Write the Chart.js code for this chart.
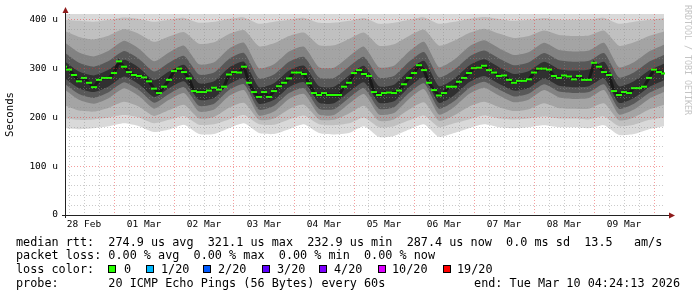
<!DOCTYPE html>
<html>
<head>
<meta charset="utf-8">
<script src="https://cdn.jsdelivr.net/npm/chart.js@4/dist/chart.umd.min.js"></script>
<style>
  body { margin: 0; background: #fff; }
</style>
</head>
<body>
<canvas id="Smoke_Chart" width="697" height="297"></canvas>
<script>
// hours are counted from 28 Feb 00:00
const dayLabels = ['28 Feb', '01 Mar', '02 Mar', '03 Mar', '04 Mar', '05 Mar', '06 Mar', '07 Mar', '08 Mar', '09 Mar'];

// median rtt in microseconds, one value every 2 hours (hour 4 .. 244)
const medianRtt = [
  304, 298, 287, 274, 281, 271, 262, 277, 281, 281,
  291, 315, 304, 293, 287, 285, 282, 274, 259, 250,
  263, 277, 295, 300, 293, 280, 254, 252, 252, 255,
  261, 257, 263, 288, 293, 292, 304, 271, 252, 242,
  252, 242, 254, 264, 271, 280, 292, 292, 289, 270,
  250, 246, 250, 246, 246, 246, 263, 271, 291, 297,
  289, 285, 252, 246, 250, 251, 250, 255, 268, 281,
  291, 307, 297, 271, 256, 245, 250, 263, 263, 273,
  281, 291, 301, 302, 306, 297, 292, 285, 286, 277,
  271, 275, 275, 278, 292, 300, 300, 298, 285, 281,
  286, 284, 278, 285, 277, 277, 312, 304, 293, 287,
  254, 246, 252, 250, 260, 260, 263, 281, 298, 293,
  290
];

// smoke bands (sorted pings), one value every 6 hours (hour 4 .. 244)
const pingLowest = [178, 176, 178, 182, 188, 182, 170, 175, 185, 166, 166, 178, 188, 168, 166, 176, 186, 168, 165, 168, 182, 160, 162, 175, 186, 160, 168, 178, 186, 180, 178, 180, 184, 180, 180, 178, 184, 164, 166, 176, 182];
const pingLow = [198, 195, 196, 200, 205, 200, 188, 195, 203, 185, 186, 196, 205, 186, 185, 196, 204, 186, 184, 188, 200, 180, 182, 194, 204, 180, 188, 196, 204, 198, 196, 198, 202, 198, 198, 196, 202, 182, 185, 195, 200];
const pingLowSoft = [226, 214, 212, 220, 232, 222, 203, 215, 226, 198, 201, 220, 230, 195, 198, 217, 226, 196, 195, 208, 224, 193, 196, 216, 231, 193, 204, 222, 232, 221, 213, 217, 229, 219, 218, 218, 229, 194, 200, 216, 226];
const pingLowMid = [258, 236, 228, 240, 260, 244, 218, 236, 250, 212, 216, 244, 256, 204, 212, 238, 248, 206, 205, 228, 248, 206, 209, 238, 258, 206, 221, 248, 261, 245, 231, 237, 256, 241, 238, 240, 256, 206, 216, 238, 252];
const pingLowDark = [270, 248, 240, 252, 272, 256, 230, 248, 262, 224, 228, 256, 268, 216, 224, 250, 260, 218, 217, 240, 260, 218, 221, 250, 270, 218, 233, 260, 273, 257, 243, 249, 268, 253, 250, 252, 268, 218, 228, 250, 264];
const pingLowCore = [282, 260, 252, 264, 284, 268, 242, 260, 274, 236, 240, 268, 280, 228, 236, 262, 272, 230, 229, 252, 272, 230, 233, 262, 282, 230, 245, 272, 285, 269, 255, 261, 280, 265, 262, 264, 280, 230, 240, 262, 276];
const pingHighCore = [316, 294, 286, 298, 318, 302, 276, 294, 308, 270, 274, 302, 314, 262, 270, 296, 306, 264, 263, 286, 306, 264, 267, 296, 316, 264, 279, 306, 319, 303, 289, 295, 314, 299, 296, 298, 314, 264, 274, 296, 310];
const pingHighDark = [334, 312, 304, 316, 336, 320, 294, 312, 326, 288, 292, 320, 332, 280, 288, 314, 324, 282, 281, 304, 324, 282, 285, 314, 334, 282, 297, 324, 337, 321, 307, 313, 332, 317, 314, 316, 332, 282, 292, 314, 328];
const pingHighMid = [355, 333, 325, 337, 357, 341, 315, 333, 347, 309, 313, 341, 353, 301, 309, 335, 345, 303, 302, 325, 345, 303, 306, 335, 355, 303, 318, 345, 358, 342, 328, 334, 353, 338, 335, 337, 353, 303, 313, 335, 349];
const pingHighSoft = [378, 365, 360, 368, 381, 371, 355, 366, 375, 351, 354, 371, 379, 346, 352, 367, 374, 348, 348, 361, 374, 347, 350, 367, 380, 347, 357, 373, 382, 372, 363, 367, 378, 369, 367, 368, 378, 347, 354, 367, 376];
const pingHigh = [400, 398, 396, 400, 405, 402, 396, 400, 404, 394, 396, 402, 405, 392, 396, 400, 404, 394, 394, 398, 404, 392, 394, 400, 405, 392, 396, 402, 406, 402, 398, 400, 404, 400, 400, 400, 404, 392, 396, 400, 404];

const lossLabels = ['0', '1/20', '2/20', '3/20', '4/20', '10/20', '19/20'];
const lossColors = ['#26ff00', '#00b8ff', '#0059ff', '#5e00ff', '#7e00ff', '#dd00ff', '#ff0000'];

const medianHours = [];
for (let h = 4; h <= 244; h += 2) medianHours.push(h);
const bandHours = [];
for (let h = 4; h <= 244; h += 6) bandHours.push(h);

function toPoints(hours, values) {
  return values.map((v, i) => ({ x: hours[i], y: v }));
}

function band(values, color, fill) {
  return {
    data: toPoints(bandHours, values),
    borderWidth: 0,
    borderColor: 'transparent',
    backgroundColor: color,
    pointRadius: 0,
    tension: 0.2,
    fill: fill
  };
}

const mono = 'DejaVu Sans Mono';
const majorGrid = 'rgba(230, 40, 40, 0.45)';
const minorGrid = 'rgba(140, 140, 140, 0.45)';

// axes, arrows, legend text and watermark like rrdtool draws them
const smokeDecor = {
  id: 'smokeDecor',
  afterDraw(chart) {
    const ctx = chart.ctx;
    const a = chart.chartArea;
    ctx.save();
    ctx.strokeStyle = '#222';
    ctx.lineWidth = 1;
    ctx.beginPath();
    ctx.moveTo(a.left + 0.5, a.bottom + 3);
    ctx.lineTo(a.left + 0.5, 10);
    ctx.moveTo(a.left - 3, a.bottom + 0.5);
    ctx.lineTo(a.right + 5, a.bottom + 0.5);
    ctx.stroke();

    ctx.fillStyle = '#8e1b1b';
    ctx.beginPath();
    ctx.moveTo(a.left + 0.5, 7);
    ctx.lineTo(a.left - 2.5, 13);
    ctx.lineTo(a.left + 3.5, 13);
    ctx.closePath();
    ctx.fill();
    ctx.beginPath();
    ctx.moveTo(a.right + 10, a.bottom + 0.5);
    ctx.lineTo(a.right + 4, a.bottom - 2.5);
    ctx.lineTo(a.right + 4, a.bottom + 3.5);
    ctx.closePath();
    ctx.fill();

    // watermark
    ctx.save();
    ctx.translate(687, 5);
    ctx.rotate(Math.PI / 2);
    ctx.font = '8.3px "' + mono + '"';
    ctx.fillStyle = '#c4c4c4';
    ctx.textBaseline = 'middle';
    ctx.textAlign = 'left';
    ctx.fillText('RRDTOOL / TOBI OETIKER', 0, 0);
    ctx.restore();

    // legend
    ctx.font = '11.8px "' + mono + '"';
    ctx.fillStyle = '#000';
    ctx.textBaseline = 'alphabetic';
    ctx.textAlign = 'left';
    ctx.fillText('median rtt:  274.9 us avg  321.1 us max  232.9 us min  287.4 us now  0.0 ms sd  13.5   am/s', 16, 245.5);
    ctx.fillText('packet loss: 0.00 % avg  0.00 % max  0.00 % min  0.00 % now', 16, 259.3);
    ctx.fillText('loss color:', 16, 273);
    ctx.fillText('probe:       20 ICMP Echo Pings (56 Bytes) every 60s', 16, 286.7);
    ctx.textAlign = 'right';
    ctx.fillText('end: Tue Mar 10 04:24:13 2026', 680, 286.7);

    let boxX = [108, 146, 203, 262, 319, 378, 443];
    let textX = [124, 161, 218, 277, 334, 392, 457];
    ctx.textAlign = 'left';
    for (let i = 0; i < lossLabels.length; i++) {
      ctx.fillStyle = lossColors[i];
      ctx.fillRect(boxX[i], 265, 8, 8);
      ctx.strokeStyle = '#000';
      ctx.strokeRect(boxX[i] + 0.5, 265.5, 7, 7);
      ctx.fillStyle = '#000';
      ctx.fillText(lossLabels[i], textX[i], 273);
    }
    ctx.restore();
  }
};

const config = {
  type: 'line',
  data: {
    datasets: [
      // median: short green dashes on a dark trace
      { data: toPoints(medianHours, medianRtt), showLine: false, pointStyle: 'line', pointRadius: 3, pointBorderWidth: 2, pointBorderColor: '#26ff00', pointBackgroundColor: '#26ff00', fill: false },
      { data: toPoints(medianHours, medianRtt), borderColor: 'rgba(20, 20, 20, 0.8)', borderWidth: 3, pointRadius: 0, tension: 0, fill: false },
      band(pingLowCore, '#303030', '+1'),
      band(pingHighCore, 'transparent', false),
      band(pingLowDark, '#585858', '+1'),
      band(pingHighDark, 'transparent', false),
      band(pingLowMid, '#828282', '+1'),
      band(pingHighMid, 'transparent', false),
      band(pingLowSoft, '#a4a4a4', '+1'),
      band(pingHighSoft, 'transparent', false),
      band(pingLow, '#c0c0c0', '+1'),
      band(pingHigh, 'transparent', false),
      band(pingLowest, '#d9d9d9', 'end')
    ]
  },
  options: {
    responsive: false,
    animation: false,
    layout: { padding: { left: 0, right: 32, top: 14, bottom: 0 } },
    plugins: {
      legend: { display: false },
      tooltip: { enabled: false }
    },
    scales: {
      x: {
        type: 'linear',
        min: 4.4,
        max: 244.4,
        afterBuildTicks: scale => {
          let t = [];
          for (let h = 6; h <= 240; h += 6) t.push({ value: h });
          scale.ticks = t;
        },
        afterFit: scale => { scale.height = 82; },
        ticks: {
          autoSkip: false,
          maxRotation: 0,
          padding: 4,
          color: '#000',
          font: { family: mono, size: 9.5 },
          callback: v => (v % 24 === 12 ? dayLabels[(v - 12) / 24] : '')
        },
        grid: {
          z: 1,
          drawTicks: false,
          color: ctx => (ctx.tick && ctx.tick.value % 24 === 0 ? majorGrid : minorGrid)
        },
        border: { display: false, dash: [1, 2] }
      },
      y: {
        min: 0,
        max: 412,
        afterBuildTicks: scale => {
          let t = [];
          for (let v = 0; v <= 400; v += 20) t.push({ value: v });
          scale.ticks = t;
        },
        afterFit: scale => { scale.width = 65; },
        ticks: {
          autoSkip: false,
          padding: 7,
          color: '#000',
          font: { family: mono, size: 9.5 },
          callback: v => (v % 100 !== 0 ? '' : (v === 0 ? '0' : v + ' u'))
        },
        grid: {
          z: 1,
          drawTicks: false,
          color: ctx => (ctx.tick && ctx.tick.value % 100 === 0 ? majorGrid : minorGrid)
        },
        border: { display: false, dash: [1, 2] },
        title: {
          display: true,
          text: 'Seconds',
          color: '#000',
          font: { family: mono, size: 10.7 },
          padding: { top: 4, bottom: 0 }
        }
      }
    }
  },
  plugins: [smokeDecor]
};

let smokeCanvas = document.getElementById('Smoke_Chart');
let smokeChart = new Chart(smokeCanvas, config);
</script>
</body>
</html>
